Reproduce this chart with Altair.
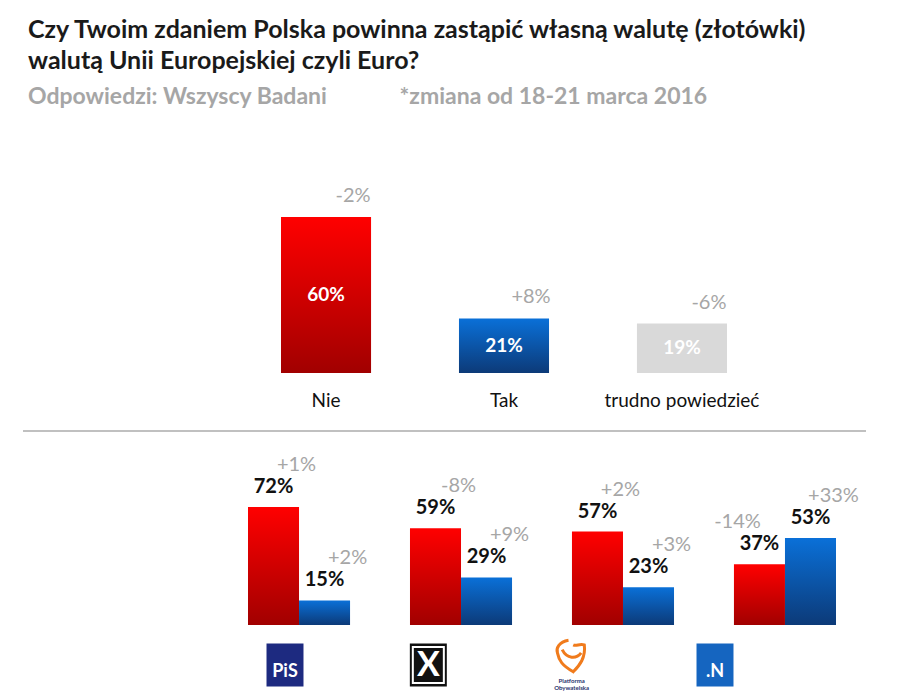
import altair as alt
import pandas as pd

# ---------------- data ----------------
top_categories = ["Nie", "Tak", "trudno powiedzieć"]
top_values = [60, 21, 19]
top_changes = ["-2%", "+8%", "-6%"]
top_tones = ["red", "blue", "grey"]

parties = ["PiS", "Kukiz'15", "PO", "Nowoczesna"]
answers = ["Nie", "Tak"]
party_nie = [72, 59, 57, 37]
party_tak = [15, 29, 23, 53]
party_nie_change = ["+1%", "-8%", "+2%", "-14%"]
party_tak_change = ["+2%", "+9%", "+3%", "+33%"]

logo_colors = ["#1d2a80", "#111111", "#ffffff", "#1565c0"]
logo_texts = ["PiS", "X", "", ".N"]

FONT = "Lato"
RED = alt.Gradient(gradient="linear", x1=0, x2=0, y1=0, y2=1,
                   stops=[alt.GradientStop(color="#ff0000", offset=0),
                          alt.GradientStop(color="#a10000", offset=1)])
BLUE = alt.Gradient(gradient="linear", x1=0, x2=0, y1=0, y2=1,
                    stops=[alt.GradientStop(color="#0a70d8", offset=0),
                           alt.GradientStop(color="#0c3a78", offset=1)])
GREY = "#d9d9d9"
CHG = "#a6a6a6"

# ---------------- top panel ----------------
top_df = pd.DataFrame({"cat": top_categories, "val": top_values,
                       "chg": top_changes, "tone": top_tones})
top_df["lbl"] = top_df["val"].astype(str) + "%"

xt = alt.X("cat:N", sort=top_categories,
           scale=alt.Scale(domain=top_categories, range=[273, 719],
                           paddingInner=0.494, paddingOuter=0),
           axis=alt.Axis(title=None, labelAngle=0, domain=False, ticks=False,
                         labelFont=FONT, labelFontSize=19, labelColor="#111111",
                         labelPadding=18))
yt = alt.Y("val:Q", scale=alt.Scale(domain=[0, 100]), axis=None)

base_top = alt.Chart(top_df)
top_layers = []
for tone, fill in [("red", RED), ("blue", BLUE), ("grey", GREY)]:
    top_layers.append(
        base_top.transform_filter(alt.datum.tone == tone)
        .mark_bar(fill=fill)
        .encode(x=xt, y=yt)
    )
top_inside = base_top.transform_calculate(mid="datum.val / 2").mark_text(
    font=FONT, fontSize=19, fontWeight="bold", color="white", baseline="middle"
).encode(x=xt, y=alt.Y("mid:Q", scale=alt.Scale(domain=[0, 100]), axis=None), text="lbl:N")
top_change = base_top.mark_text(
    font=FONT, fontSize=20, color=CHG, baseline="middle", dx=27, dy=-21
).encode(x=xt, y=yt, text="chg:N")
separator = alt.Chart(alt.Data(values=[{}])).mark_rule(
    color="#c0c0c0", strokeWidth=2
).encode(x=alt.value(15), x2=alt.value(858), y=alt.value(318))

top_panel = alt.layer(*top_layers, top_inside, top_change, separator).properties(
    width=860, height=260)

# ---------------- bottom panel ----------------
rows = []
for i, p in enumerate(parties):
    rows.append({"party": p, "answer": "Nie", "val": party_nie[i], "chg": party_nie_change[i]})
    rows.append({"party": p, "answer": "Tak", "val": party_tak[i], "chg": party_tak_change[i]})
bot_df = pd.DataFrame(rows)
bot_df["lbl"] = bot_df["val"].astype(str) + "%"

xb = alt.X("party:N", sort=parties,
           scale=alt.Scale(domain=parties, range=[240, 828], paddingInner=0.37, paddingOuter=0),
           axis=None)
xo = alt.XOffset("answer:N", sort=answers,
                 scale=alt.Scale(domain=answers, paddingInner=0, paddingOuter=0))
yb = alt.Y("val:Q", scale=alt.Scale(domain=[0, 100]), axis=None)

base_bot = alt.Chart(bot_df)
bars_nie = base_bot.transform_filter(alt.datum.answer == "Nie").mark_bar(fill=RED).encode(
    x=xb, xOffset=xo, y=yb)
bars_tak = base_bot.transform_filter(alt.datum.answer == "Tak").mark_bar(fill=BLUE).encode(
    x=xb, xOffset=xo, y=yb)
val_lbl = base_bot.mark_text(
    font=FONT, fontSize=20, fontWeight="bold", color="#111111", baseline="middle", dy=-20
).encode(x=xb, xOffset=xo, y=yb, text="lbl:N")
chg_right = base_bot.transform_filter(
    "!(datum.party == 'Nowoczesna' && datum.answer == 'Nie')"
).mark_text(font=FONT, fontSize=20, color=CHG, baseline="middle", dx=23, dy=-42).encode(
    x=xb, xOffset=xo, y=yb, text="chg:N")
chg_left = base_bot.transform_filter(
    "datum.party == 'Nowoczesna' && datum.answer == 'Nie'"
).mark_text(font=FONT, fontSize=20, color=CHG, baseline="middle", dx=-22, dy=-42).encode(
    x=xb, xOffset=xo, y=yb, text="chg:N")

bars_part = alt.layer(bars_nie, bars_tak, val_lbl, chg_right, chg_left)

# ---------------- logos (below the bar plot area) ----------------
logo_df = pd.DataFrame({"party": parties, "bg": logo_colors, "txt": logo_texts})
xl = alt.X("party:N", sort=parties,
           scale=alt.Scale(type="point", domain=parties, range=[277, 707], padding=0),
           axis=None)
RECT = "M-0.86,-1L0.86,-1L0.86,1L-0.86,1Z"
base_logo = alt.Chart(logo_df)
logo_bg = base_logo.transform_filter(alt.datum.party != "PO").mark_point(
    shape=RECT, size=1849, filled=True, opacity=1
).encode(x=xl, y=alt.value(204), fill=alt.Fill("bg:N", scale=None), stroke=alt.value(None))
logo_inner = base_logo.transform_filter(alt.datum.party == "Kukiz'15").mark_point(
    shape=RECT, size=1300, filled=False, stroke="white", strokeWidth=2, opacity=1
).encode(x=xl, y=alt.value(204))
logo_txt = base_logo.transform_filter(
    (alt.datum.party != "Kukiz'15") & (alt.datum.party != "PO")
).mark_text(
    font=FONT, fontSize=18, fontWeight="bold", color="white", baseline="middle"
).encode(x=xl, y=alt.value(211), text="txt:N")
logo_x = base_logo.transform_filter(alt.datum.party == "Kukiz'15").mark_text(
    font=FONT, fontSize=34, fontWeight="bold", color="white", baseline="middle"
).encode(x=xl, y=alt.value(205), text="txt:N")
PO_SHAPE = ("M-0.2,-1C-0.8,-0.9 -1,-0.5 -0.9,-0.2C-0.8,0.3 -0.6,0.6 0.1,1"
            "C0.5,0.6 0.9,0.1 0.8,-0.7C0.5,-0.8 0.3,-0.6 0.1,-0.7"
            "M-0.6,-0.4C-0.3,0.2 0.3,0.2 0.6,-0.2")
logo_po = base_logo.transform_filter(alt.datum.party == "PO").mark_point(
    shape=PO_SHAPE, size=1000, filled=False, stroke="#f07b1c", strokeWidth=3, opacity=1
).encode(x=xl, y=alt.value(195))
logo_po_txt = base_logo.transform_filter(alt.datum.party == "PO").mark_text(
    font=FONT, fontSize=6, fontWeight="bold", color="#27306b", lineHeight=7, baseline="top"
).encode(x=xl, y=alt.value(217), text=alt.value(["Platforma", "Obywatelska"]))

logos_part = alt.layer(logo_bg, logo_inner, logo_txt, logo_x, logo_po, logo_po_txt)

bottom_panel = alt.layer(bars_part, logos_part).resolve_scale(x="independent").properties(
    width=860, height=164)

chart = alt.vconcat(top_panel, bottom_panel, spacing=22).properties(
    padding={"left": 0, "top": 10, "right": 0, "bottom": 0},
    title=alt.TitleParams(
        text=["Czy Twoim zdaniem Polska powinna zastąpić własną walutę (złotówki)",
              "walutą Unii Europejskiej czyli Euro?"],
        subtitle="Odpowiedzi: Wszyscy Badani" + "\u00a0" * 13 + "*zmiana od 18-21 marca 2016",
        anchor="start", dx=20, font=FONT, fontSize=25, fontWeight="bold", color="#1a1a1a",
        lineHeight=31, subtitleFont=FONT, subtitleFontSize=23, subtitleFontWeight="bold",
        subtitleColor="#a6a6a6", subtitlePadding=12, offset=4)
).configure_view(stroke=None)

chart.save("out.html", embed_options={"renderer": "svg", "actions": False})
